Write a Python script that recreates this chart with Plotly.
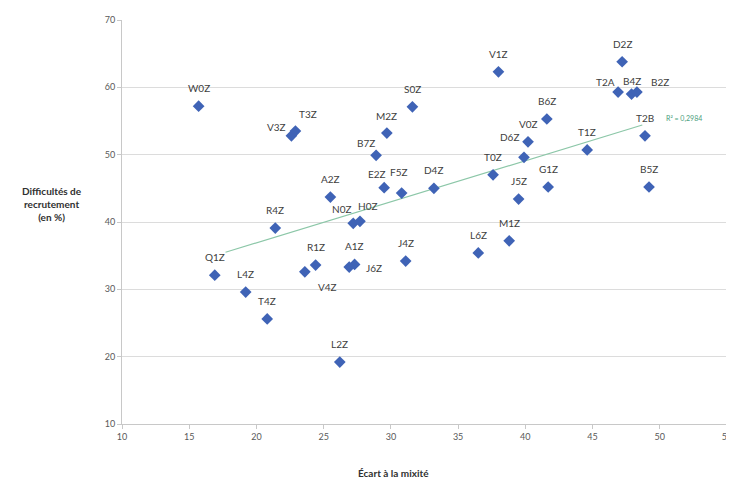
import plotly.graph_objects as go

# ---- data ----
codes = ["W0Z", "V3Z", "T3Z", "M2Z", "S0Z", "B7Z", "E2Z", "F5Z", "A2Z", "N0Z",
         "H0Z", "R4Z", "V1Z", "D2Z", "T2A", "B4Z", "B2Z", "B6Z", "V0Z", "D6Z",
         "T1Z", "T2B", "B5Z", "G1Z", "J5Z", "T0Z", "D4Z", "L6Z", "M1Z", "J4Z",
         "A1Z", "J6Z", "R1Z", "V4Z", "Q1Z", "L4Z", "T4Z", "L2Z"]
ecart_mixite = [15.7, 22.6, 22.9, 29.7, 31.6, 28.9, 29.5, 30.8, 25.5, 27.2,
                27.7, 21.4, 38.0, 47.2, 46.9, 47.9, 48.3, 41.6, 40.2, 39.9,
                44.6, 48.9, 49.2, 41.7, 39.5, 37.6, 33.2, 36.5, 38.8, 31.1,
                27.3, 26.9, 24.4, 23.6, 16.9, 19.2, 20.8, 26.2]
difficultes = [57.2, 52.8, 53.5, 53.2, 57.1, 49.9, 45.1, 44.3, 43.7, 39.8,
               40.1, 39.1, 62.3, 63.8, 59.3, 59.0, 59.3, 55.3, 51.9, 49.6,
               50.7, 52.8, 45.2, 45.2, 43.4, 47.0, 45.0, 35.4, 37.2, 34.2,
               33.7, 33.3, 33.6, 32.6, 32.1, 29.6, 25.6, 19.2]
trend_x = [17.7, 48.7]
trend_y = [35.5, 54.4]
r2_text = "R² = 0,2984"
x_ticks = [10, 15, 20, 25, 30, 35, 40, 45, 50, 55]
y_ticks = [10, 20, 30, 40, 50, 60, 70]

# ---- label placement (pixel shifts), default is centred above ----
label_shift = {
    "V3Z": (-15, 9), "T3Z": (13, 17), "B7Z": (-10, 12), "M2Z": (0, 17),
    "E2Z": (-7, 14), "F5Z": (-3, 21), "N0Z": (-12, 14), "H0Z": (8, 15),
    "T2A": (-13, 10), "B4Z": (0, 13), "B2Z": (23, 10), "D6Z": (-14, 20),
    "J6Z": (25, -1), "V4Z": (23, -15),
}
default_shift = (0, 18)

FONT = "Lato, Carlito, Liberation Sans, sans-serif"

fig = go.Figure()
fig.add_trace(go.Scatter(
    x=trend_x, y=trend_y, mode="lines",
    line=dict(color="#8cc7a8", width=1.2), hoverinfo="skip", showlegend=False))
fig.add_trace(go.Scatter(
    x=ecart_mixite, y=difficultes, mode="markers", text=codes,
    marker=dict(symbol="diamond", size=9, color="#3f63b6"),
    showlegend=False))

for c, xv, yv in zip(codes, ecart_mixite, difficultes):
    dx, dy = label_shift.get(c, default_shift)
    fig.add_annotation(x=xv, y=yv, xref="x", yref="y", text=c, showarrow=False,
                       xshift=dx, yshift=dy,
                       font=dict(family=FONT, size=10, color="#404040"))

fig.add_annotation(x=50.3, y=55.4, xref="x", yref="y", text=r2_text,
                   showarrow=False, xanchor="left",
                   font=dict(family=FONT, size=7, color="#4a9e7c"))

fig.add_annotation(x=-0.116, y=0.545, xref="paper", yref="paper",
                   text="<b>Difficultés de<br>recrutement<br>(en %)</b>",
                   showarrow=False, xanchor="center", yanchor="middle", align="center",
                   font=dict(family=FONT, size=10, color="#303030"))
fig.add_annotation(x=0.449, y=-0.121, xref="paper", yref="paper",
                   text="<b>Écart à la mixité</b>",
                   showarrow=False, xanchor="center", yanchor="middle",
                   font=dict(family=FONT, size=10, color="#303030"))

fig.update_layout(
    width=726, height=472,
    margin=dict(l=114, r=2, t=12, b=56),
    plot_bgcolor="white", paper_bgcolor="white",
    font=dict(family=FONT, size=9, color="#595959"),
    xaxis=dict(range=[10, 55], tickvals=x_ticks, showgrid=False, zeroline=False,
               showline=True, linecolor="#c8c8c8", linewidth=1,
               ticks="outside", ticklen=4, tickcolor="#c8c8c8",
               ticklabeloverflow="allow",
               tickfont=dict(size=9, color="#595959")),
    yaxis=dict(range=[10, 70], tickvals=y_ticks, showgrid=True, gridcolor="#dcdcdc",
               gridwidth=1, zeroline=False,
               showline=True, linecolor="#c8c8c8", linewidth=1,
               ticks="outside", ticklen=4, tickcolor="#c8c8c8",
               tickfont=dict(size=9, color="#595959")),
)

fig.write_html("out.html")
